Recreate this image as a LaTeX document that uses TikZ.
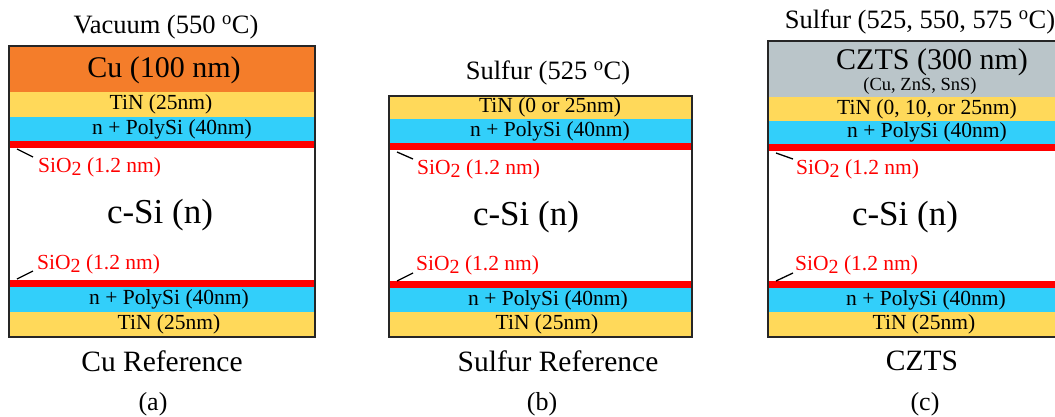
\documentclass[tikz,border=0pt]{standalone}
\usepackage{fontspec}
\setmainfont{Liberation Serif}
\definecolor{cuorange}{HTML}{F47D2A}
\definecolor{tinyellow}{HTML}{FFD95A}
\definecolor{polyblue}{HTML}{32CFFA}
\definecolor{oxred}{HTML}{FF0000}
\definecolor{cztsgray}{HTML}{BAC5C9}
\definecolor{outlinegray}{HTML}{262626}
\newcommand{\pfs}[1]{\fontsize{#1}{#1}\selectfont}
\newcommand{\sioxlabel}{SiO\raisebox{-0.3ex}{\pfs{20}2} (1.2 nm)}
\newcommand{\degC}{\textsuperscript{o}C}
\begin{document}
\begin{tikzpicture}[x=1pt,y=-1pt,
  every node/.style={inner sep=0pt},
  title/.style={font=\pfs{26.5}},
  thick layer/.style={font=\pfs{30}},
  layer/.style={font=\pfs{21.5}},
  subnote/.style={font=\pfs{18.5}},
  oxide/.style={font=\pfs{21.5}, text=oxred, anchor=west},
  bulk/.style={font=\pfs{35}},
  caption/.style={font=\pfs{29.5}},
  tag/.style={font=\pfs{26}},
  leader/.style={draw=black, line width=1.3pt},
  outline/.style={draw=outlinegray, line width=2pt}]
\useasboundingbox (0,0) rectangle (1055,416);
\clip (0,0) rectangle (1055,416);

% ---------- (a) Cu reference ----------
\fill[cuorange]  (9,46)  rectangle (315,92);
\fill[tinyellow] (9,92)  rectangle (315,117);
\fill[polyblue]  (9,117) rectangle (315,141);
\fill[oxred]     (9,141) rectangle (315,148);
\fill[oxred]     (9,280) rectangle (315,287);
\fill[polyblue]  (9,287) rectangle (315,312);
\fill[tinyellow] (9,312) rectangle (315,337);
\draw[outline]   (9,46)  rectangle (315,337);

\node[title]       (a-title) at (166,27)    {Vacuum (550 \degC)};
\node[thick layer] (a-cu)    at (164,70)    {Cu (100 nm)};
\node[layer]       (a-tin)   at (161,104.5) {TiN (25nm)};
\node[layer]       (a-poly)  at (172,129)   {n + PolySi (40nm)};
\node[oxide]       (a-ox1)   at (38,167)    {\sioxlabel};
\node[bulk]        (a-si)    at (160,215)   {c-Si (n)};
\node[oxide]       (a-ox2)   at (37,264)    {\sioxlabel};
\node[layer]       (a-poly2) at (169,299.5) {n + PolySi (40nm)};
\node[layer]       (a-tin2)  at (169,324.5) {TiN (25nm)};
\node[caption]     (a-name)  at (162,361)   {Cu Reference};
\node[tag]         (a-tag)   at (153,404)   {(a)};
\coordinate (a-p1) at (17,149);
\coordinate (a-p2) at (17,279);
\draw[leader] (a-p1) -- ([shift={(-5,-10)}]a-ox1.west);
\draw[leader] (a-p2) -- ([shift={(-4,7)}]a-ox2.west);

% ---------- (b) Sulfur reference ----------
\fill[tinyellow] (389,96)  rectangle (692,119);
\fill[polyblue]  (389,119) rectangle (692,143);
\fill[oxred]     (389,143) rectangle (692,150);
\fill[oxred]     (389,281) rectangle (692,288);
\fill[polyblue]  (389,288) rectangle (692,312);
\fill[tinyellow] (389,312) rectangle (692,337);
\draw[outline]   (389,96)  rectangle (692,337);

\node[title]   (b-title) at (548,73)    {Sulfur (525 \degC)};
\node[layer]   (b-tin)   at (550,107.5) {TiN (0 or 25nm)};
\node[layer]   (b-poly)  at (550,131)   {n + PolySi (40nm)};
\node[oxide]   (b-ox1)   at (417,169)   {\sioxlabel};
\node[bulk]    (b-si)    at (526,217)   {c-Si (n)};
\node[oxide]   (b-ox2)   at (416,265)   {\sioxlabel};
\node[layer]   (b-poly2) at (548,300)   {n + PolySi (40nm)};
\node[layer]   (b-tin2)  at (547,324.5) {TiN (25nm)};
\node[caption] (b-name)  at (558,361)   {Sulfur Reference};
\node[tag]     (b-tag)   at (542,404)   {(b)};
\coordinate (b-p1) at (397,152);
\coordinate (b-p2) at (397,281);
\draw[leader] (b-p1) -- ([shift={(-4,-10)}]b-ox1.west);
\draw[leader] (b-p2) -- ([shift={(-3,8)}]b-ox2.west);

% ---------- (c) CZTS ----------
\fill[cztsgray]  (768,41)  rectangle (1064,97);
\fill[tinyellow] (768,97)  rectangle (1064,121);
\fill[polyblue]  (768,121) rectangle (1064,144);
\fill[oxred]     (768,144) rectangle (1064,151);
\fill[oxred]     (768,281) rectangle (1064,288);
\fill[polyblue]  (768,288) rectangle (1064,312);
\fill[tinyellow] (768,312) rectangle (1064,337);
\draw[outline]   (768,41)  rectangle (1064,337);

\node[title]       (c-title) at (920,22)   {Sulfur (525, 550, 575 \degC)};
\node[thick layer] (c-czts)  at (932,62)   {CZTS (300 nm)};
\node[subnote]     (c-prec)  at (920,86)   {(Cu, ZnS, SnS)};
\node[layer]       (c-tin)   at (927,109)  {TiN (0, 10, or 25nm)};
\node[layer]       (c-poly)  at (927,132.5){n + PolySi (40nm)};
\node[oxide]       (c-ox1)   at (796,169)  {\sioxlabel};
\node[bulk]        (c-si)    at (905,217)  {c-Si (n)};
\node[oxide]       (c-ox2)   at (795,265)  {\sioxlabel};
\node[layer]       (c-poly2) at (926,300)  {n + PolySi (40nm)};
\node[layer]       (c-tin2)  at (924,324.5){TiN (25nm)};
\node[caption]     (c-name)  at (922,361)  {CZTS};
\node[tag]         (c-tag)   at (925,404)  {(c)};
\coordinate (c-p1) at (776,153);
\coordinate (c-p2) at (776,281);
\draw[leader] (c-p1) -- ([shift={(-3,-10)}]c-ox1.west);
\draw[leader] (c-p2) -- ([shift={(-2,8)}]c-ox2.west);
\end{tikzpicture}
\end{document}
